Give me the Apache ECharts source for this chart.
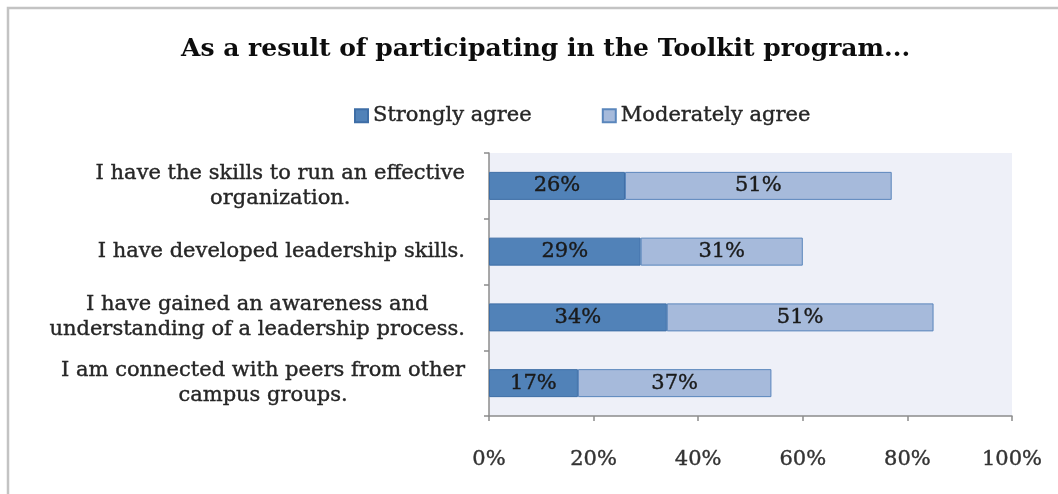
<!DOCTYPE html>
<html>
<head>
<meta charset="utf-8">
<script src="https://cdn.jsdelivr.net/npm/echarts@6/dist/echarts.min.js"></script>
<style>
  html, body { margin: 0; padding: 0; background: #ffffff; }
  #chart { width: 1058px; height: 494px; }
</style>
</head>
<body>
<div id="chart"></div>
<script>
// Survey statements (top to bottom), with manual line breaks
const statements = [
  'I have the skills to run an effective\norganization.',
  'I have developed leadership skills.',
  'I have gained an awareness and\nunderstanding of a leadership process.',
  'I am connected with peers from other\ncampus groups.'
];
const seriesNames = ['Strongly agree', 'Moderately agree'];
const stronglyAgree = [26, 29, 34, 17];
const moderatelyAgree = [51, 31, 51, 37];
const percentTicks = ['0%', '20%', '40%', '60%', '80%', '100%'];

const serif = '"DejaVu Serif", "Liberation Serif", serif';
// a hairline outline in the text colour gives the labels a slightly heavier stroke
const heavy = c => ({ color: c, textBorderColor: c, textBorderWidth: 0.4 });

const chart = echarts.init(document.getElementById('chart'), null, { renderer: 'canvas' });

const barLabel = Object.assign({
  show: true,
  position: 'inside',
  formatter: p => p.value + '%',
  fontFamily: serif,
  fontSize: 21
}, heavy('#1a1a1a'));

chart.setOption({
  animation: false,
  backgroundColor: '#ffffff',
  graphic: [{
    type: 'rect',
    shape: { x: 8, y: 8, width: 1070, height: 500 },
    style: { fill: 'none', stroke: '#c3c3c3', lineWidth: 2.5 },
    silent: true
  }],
  title: {
    text: 'As a result of participating in the Toolkit program...',
    left: 176,
    top: 32,
    textStyle: { fontFamily: serif, fontWeight: 'bold', fontSize: 25, color: '#0d0d0d' }
  },
  legend: {
    left: 349,
    top: 100,
    itemWidth: 13,
    itemHeight: 13,
    itemGap: 70,
    icon: 'rect',
    textStyle: Object.assign({ fontFamily: serif, fontSize: 21 }, heavy('#262626')),
    data: seriesNames
  },
  grid: {
    left: 489, right: 46, top: 153, bottom: 78,
    show: true, backgroundColor: '#eef0f8', borderWidth: 0,
    containLabel: false
  },
  xAxis: {
    type: 'value',
    min: 0, max: 100, interval: 20,
    splitLine: { show: false },
    axisLine: { show: true, lineStyle: { color: '#8c8c8c', width: 1.5 } },
    axisTick: { show: true, length: 5, inside: false, lineStyle: { color: '#8c8c8c', width: 1.5 } },
    axisLabel: Object.assign({
      margin: 33,
      fontFamily: serif, fontSize: 21,
      formatter: v => percentTicks[Math.round(v / 20)]
    }, heavy('#333333'))
  },
  yAxis: {
    type: 'category',
    inverse: true,
    data: statements,
    axisLine: { show: true, lineStyle: { color: '#8c8c8c', width: 1.5 } },
    axisTick: { show: true, length: 5, lineStyle: { color: '#8c8c8c', width: 1.5 } },
    axisLabel: {
      margin: 24,
      formatter: v => v.split('\n').map(line => '{c|' + line + '}').join('\n'),
      rich: {
        c: Object.assign({ align: 'center', fontFamily: serif, fontSize: 21, lineHeight: 25 }, heavy('#262626'))
      }
    }
  },
  series: [
    {
      name: seriesNames[0],
      type: 'bar',
      stack: 'agree',
      barWidth: 28,
      data: stronglyAgree,
      itemStyle: { color: '#5182b8', borderColor: '#3e6ea6', borderWidth: 1 },
      label: barLabel
    },
    {
      name: seriesNames[1],
      type: 'bar',
      stack: 'agree',
      barWidth: 28,
      data: moderatelyAgree,
      itemStyle: { color: '#a6badb', borderColor: '#5a86bc', borderWidth: 1 },
      label: barLabel
    }
  ]
});
</script>
</body>
</html>
